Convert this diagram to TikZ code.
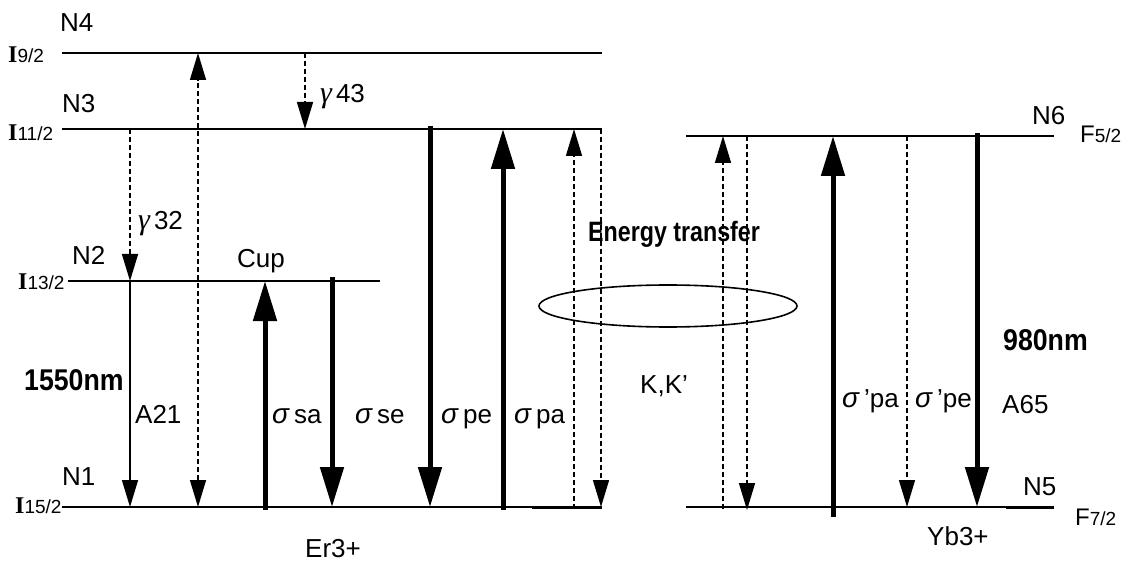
\documentclass[tikz,border=0pt]{standalone}
\usepackage{fontspec}
\usepackage{graphicx}
\setmainfont{Liberation Sans}
\newfontfamily\serifI{Liberation Serif}
\usetikzlibrary{arrows.meta,shapes.geometric}
\newcommand{\lvlname}[2]{{\serifI\bfseries\fontsize{24}{24}\selectfont #1}{\fontsize{19}{19}\selectfont #2}}
\newcommand{\sig}{{\itshape\fontsize{28}{28}\selectfont σ}\hspace{5pt}}
\newcommand{\gam}{{\serifI\itshape\fontsize{30}{30}\selectfont γ}\hspace{4pt}}
\begin{document}
\begin{tikzpicture}[x=1pt,y=-1pt,
  lbl/.style={anchor=base west, inner sep=0pt, font=\fontsize{26}{26}\selectfont},
  bold/.style={anchor=base west, inner sep=0pt, font=\fontsize{30}{30}\selectfont\bfseries},
  levelline/.style={line width=2pt},
  thickarr/.style={line width=5pt, -{Triangle[length=40pt,width=23pt]}},
  dasharr/.style={line width=1.5pt, dash pattern=on 5pt off 3pt, -{Triangle[length=27pt,width=16pt]}},
  dashboth/.style={line width=1.5pt, dash pattern=on 5pt off 3pt, {Triangle[length=27pt,width=16pt]}-{Triangle[length=27pt,width=16pt]}},
  thinarr/.style={line width=1.5pt, -{Triangle[length=27pt,width=16pt]}},
]
\useasboundingbox (0,0) rectangle (1144,564);
\fill[white] (0,0) rectangle (1144,564);

% level lines
\coordinate (L4a) at (62,53);  \coordinate (L4b) at (602,53);
\coordinate (L3a) at (62,129); \coordinate (L3b) at (602,129);
\coordinate (L2a) at (68,281); \coordinate (L2b) at (380,281);
\coordinate (L1a) at (62,507); \coordinate (L1b) at (602,507); \coordinate (L1c) at (532,507);
\coordinate (L6a) at (686,136); \coordinate (L6b) at (1054,136);
\coordinate (L5a) at (686,507); \coordinate (L5b) at (1054,507); \coordinate (L5c) at (1006,507);
\draw[levelline] (L4a) -- (L4b);
\draw[levelline] (L3a) -- (L3b);
\draw[levelline] (L2a) -- (L2b);
\draw[levelline] (L1a) -- (L1b);
\draw[line width=3pt] (L1c) -- (L1b);
\draw[levelline] (L6a) -- (L6b);
\draw[levelline] (L5a) -- (L5b);
\draw[line width=3pt] (L5c) -- (L5b);

% level labels
\node[lbl] (n4) at (60,32) {N4};
\node[lbl] (i92) at (8,63) {\lvlname{I}{9/2}};
\node[lbl] (n3) at (62,113) {N3};
\node[lbl] (i112) at (8,141) {\lvlname{I}{11/2}};
\node[lbl] (n2) at (72,265) {N2};
\node[lbl] (i132) at (18,290) {\lvlname{I}{13/2}};
\node[lbl] (n1) at (62,485) {N1};
\node[lbl] (i152) at (15,513) {\lvlname{I}{15/2}};
\node[lbl] (n6) at (1032,125) {N6};
\node[lbl] (f52) at (1080,143) {{\fontsize{24}{24}\selectfont F}{\fontsize{19}{19}\selectfont 5/2}};
\node[lbl] (n5) at (1023,495) {N5};
\node[lbl] (f72) at (1075,525) {{\fontsize{24}{24}\selectfont F}{\fontsize{19}{19}\selectfont 7/2}};
\node[lbl] (er) at (305,557) {Er3+};
\node[lbl] (yb) at (927,545) {Yb3+};
\node[lbl] (cup) at (237,268) {Cup};

% Er arrows
\coordinate (a1t) at (198,53);  \coordinate (a1b) at (198,507);
\draw[dashboth] (a1b) -- (a1t);
\coordinate (g43t) at (305,53); \coordinate (g43b) at (305,129);
\draw[dasharr] (g43t) -- (g43b);
\node[lbl] (g43) at (320,103) {\gam 43};
\coordinate (g32t) at (130,129); \coordinate (g32b) at (130,281);
\draw[dasharr] (g32t) -- (g32b);
\node[lbl] (g32) at (138,230) {\gam 32};
\coordinate (a21b) at (130,507);
\draw[thinarr] (g32b) -- (a21b);
\node[lbl] (a21) at (135,423) {A21};
\node[bold] (nm1550) at (24,390) {\scalebox{0.89}[1]{1550nm}};

\coordinate (sab) at (265,510); \coordinate (sat) at (265,281);
\draw[thickarr] (sab) -- (sat);
\node[lbl] (sa) at (272,423) {\sig sa};
\coordinate (set) at (332,277); \coordinate (seb) at (332,507);
\draw[thickarr] (set) -- (seb);
\node[lbl] (se) at (355,423) {\sig se};
\coordinate (pet) at (430,126); \coordinate (peb) at (430,507);
\draw[thickarr] (pet) -- (peb);
\node[lbl] (pe) at (441,423) {\sig pe};
\coordinate (pab) at (503,510); \coordinate (pat) at (503,129);
\draw[thickarr] (pab) -- (pat);
\node[lbl] (pa) at (514,423) {\sig pa};
\coordinate (d1b) at (574,509); \coordinate (d1t) at (574,129);
\draw[dasharr] (d1b) -- (d1t);
\coordinate (d2t) at (601,129); \coordinate (d2b) at (601,507);
\draw[dasharr] (d2t) -- (d2b);

% energy transfer
\node[draw, ellipse, line width=1.6pt, minimum width=258pt, minimum height=42pt, inner sep=0pt] (et) at (668,306) {};
\node[bold, font=\fontsize{28}{28}\selectfont\bfseries] (ettext) at (588,242) {\scalebox{0.83}[1]{Energy transfer}};
\node[lbl] (kk) at (640,393) {K,K’};

% Yb arrows
\coordinate (d3b) at (723,509); \coordinate (d3t) at (723,136);
\draw[dasharr] (d3b) -- (d3t);
\coordinate (d4t) at (747,136); \coordinate (d4b) at (747,510);
\draw[dasharr] (d4t) -- (d4b);
\coordinate (ypab) at (833,517); \coordinate (ypat) at (833,136);
\draw[thickarr] (ypab) -- (ypat);
\node[lbl] (ypa) at (842,407) {\sig’pa};
\coordinate (d5t) at (907,136); \coordinate (d5b) at (907,507);
\draw[dasharr] (d5t) -- (d5b);
\node[lbl] (ype) at (915,407) {\sig’pe};
\coordinate (ypet) at (977,133); \coordinate (ypeb) at (977,507);
\draw[thickarr] (ypet) -- (ypeb);
\node[bold] (nm980) at (1003,350) {\scalebox{0.89}[1]{980nm}};
\node[lbl] (a65) at (1002,413) {A65};
\end{tikzpicture}
\end{document}
